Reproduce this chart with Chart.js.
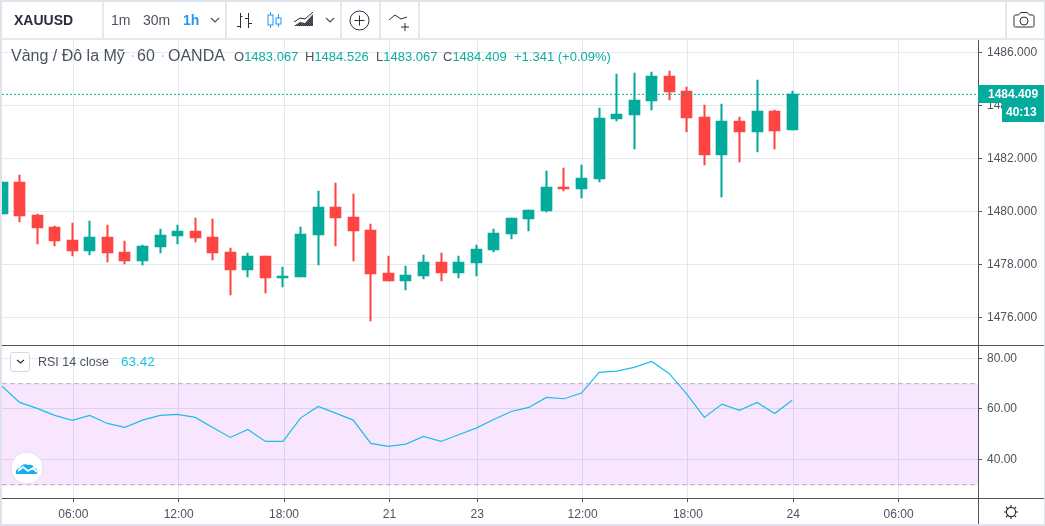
<!DOCTYPE html>
<html lang="vi">
<head>
<meta charset="utf-8">
<title>XAUUSD</title>
<script src="https://cdn.jsdelivr.net/npm/chart.js@4/dist/chart.umd.min.js"></script>
<style>
  html, body { margin: 0; padding: 0; background: #fff; }
  body { width: 1045px; height: 526px; position: relative; overflow: hidden; font-family: "Liberation Sans", Arial, sans-serif; color: #4c525e; }
  canvas { position: absolute; left: 0; top: 0; }
  .t { position: absolute; white-space: nowrap; line-height: 1; }
  .sep { position: absolute; top: 2px; width: 2px; height: 37px; background: #e6e8ee; }
  svg { position: absolute; overflow: visible; }
  #frame { position: absolute; inset: 0; border: 2px solid #e0e3eb; border-right-width: 1px; box-sizing: border-box; pointer-events: none; }
  #toolbarLine { position: absolute; left: 0; top: 38px; width: 1045px; height: 2px; background: #e6e8ee; }
  .green { color: #0fae9e; }
</style>
</head>
<body>
<canvas id="grafico" width="1045" height="526"></canvas>

<div id="toolbarLine"></div>
<div class="sep" style="left:102px"></div>
<div class="sep" style="left:225px"></div>
<div class="sep" style="left:340px"></div>
<div class="sep" style="left:379px"></div>
<div class="sep" style="left:418px"></div>
<div class="sep" style="left:1005px"></div>

<div class="t" style="left:14px;top:13px;font-size:14px;font-weight:bold;color:#2a2e39">XAUUSD</div>
<div class="t" style="left:111px;top:13px;font-size:14px">1m</div>
<div class="t" style="left:143px;top:13px;font-size:14px">30m</div>
<div class="t" style="left:183px;top:13px;font-size:14px;font-weight:bold;color:#2196f3">1h</div>

<!-- icones da barra -->
<svg style="left:0;top:0" width="1045" height="40" fill="none" stroke="#2a2e39" stroke-width="1">
  <defs><pattern id="hachura" width="2" height="2" patternUnits="userSpaceOnUse"><rect width="1" height="1" fill="#2a2e39"/><rect x="1" y="1" width="1" height="1" fill="#2a2e39"/></pattern></defs>
  <path d="M211 18l4 4 4-4M326 18l4 4 4-4" stroke="#50535e" stroke-width="1.2"/>
  <path d="M240.5 13v15M237 26.5h3.5M240.5 16.5h2M248.5 13v15M245 18.5h3.5M248.5 23.5h3.5"/>
  <g stroke="#2196f3"><path d="M270.5 12v3M270.5 25v3M278.5 14v4M278.5 24v3"/><rect x="268" y="15" width="5" height="10"/><rect x="276" y="18" width="5" height="6"/></g>
  <path d="M294 26l6-4 5 1 8-9v12h-19z" fill="url(#hachura)" stroke="none"/>
  <path d="M294 22l6-4 5 1 8-7" stroke="#2a2e39"/>
  <circle cx="359.5" cy="20.5" r="9.5"/><path d="M359.5 15.5v10M354.5 20.5h10"/>
  <path d="M389 20l6-5 6 4 6-2M405 23v8M401 27h8"/>
  <path d="M1015.5 15h3l2-2.500h7l2 2.500h3a1.500 1.500 0 0 1 1.500 1.500v9a1.500 1.500 0 0 1-1.500 1.500h-17a1.500 1.500 0 0 1-1.500-1.500v-9a1.500 1.500 0 0 1 1.500-1.500z"/>
  <circle cx="1024" cy="21" r="4"/>
</svg>

<!-- legenda principal -->
<div class="t" style="left:11px;top:48px;font-size:16px">Vàng / Đô la Mỹ</div>
<div class="t" style="left:130px;top:48px;font-size:16px;color:#c4c7cf">·</div>
<div class="t" style="left:137px;top:48px;font-size:16px">60</div>
<div class="t" style="left:160px;top:48px;font-size:16px;color:#c4c7cf">·</div>
<div class="t" style="left:168px;top:48px;font-size:16px">OANDA</div>
<div class="t" style="left:234px;top:50px;font-size:13px">O<span class="green">1483.067</span></div>
<div class="t" style="left:305px;top:50px;font-size:13px">H<span class="green">1484.526</span></div>
<div class="t" style="left:376px;top:50px;font-size:13px">L<span class="green">1483.067</span></div>
<div class="t" style="left:443px;top:50px;font-size:13px">C<span class="green">1484.409</span></div>
<div class="t green" style="left:514px;top:50px;font-size:13px">+1.341 (+0.09%)</div>

<!-- legenda RSI -->
<div style="position:absolute;left:10px;top:352px;width:20px;height:20px;border:1px solid #d5d8e0;border-radius:3px;background:#fff;box-sizing:border-box"></div>
<svg style="left:0;top:0" width="60" height="400" fill="none"><path d="M17 360l3.500 3 3.500-3" stroke="#2a2e39" stroke-width="1.2"/></svg>
<div class="t" style="left:38px;top:356px;font-size:12.500px">RSI 14 close</div>
<div class="t" style="left:121px;top:355px;font-size:13.500px;color:#1cc4dc">63.42</div>

<!-- logo -->
<svg style="left:10px;top:451px" width="34" height="34">
  <circle cx="17" cy="17" r="16" fill="#fff" stroke="#eadcef"/>
  <path d="M6 23c-1-4 2-6 4-6 1-3 5-5 8-3 2-1 6 0 6 3 3 0 4 3 3 6z" fill="#12aef0"/>
  <path d="M8 20l5-4 5 4 5-3 4 4" fill="none" stroke="#fff" stroke-width="1.800"/>
</svg>

<!-- engrenagem -->
<svg style="left:1004px;top:505px" width="14" height="14" fill="none" stroke="#2a2e39" stroke-width="1.100">
  <circle cx="7" cy="7" r="4.600"/><path d="M7 0v2.400M7 11.600V14M0 7h2.400M11.600 7H14M2 2l1.700 1.700M10.300 10.300L12 12M12 2l-1.700 1.700M3.700 10.300L2 12"/>
</svg>

<div id="frame"></div>

<script>
// Dados (candles de 1h, XAUUSD)
const abertura = [1479.90, 1481.11, 1479.86, 1479.41, 1478.92, 1478.50, 1479.03, 1478.46, 1478.12, 1478.65,
  1479.07, 1479.26, 1479.03, 1478.46, 1477.78, 1478.31, 1477.48, 1477.52, 1479.11, 1480.16,
  1479.79, 1479.29, 1477.67, 1477.37, 1477.56, 1478.09, 1477.67, 1478.05, 1478.54, 1479.14,
  1479.71, 1480.01, 1480.92, 1480.84, 1481.22, 1483.48, 1483.63, 1484.16, 1485.11, 1484.54,
  1483.56, 1482.12, 1483.41, 1482.99, 1483.79, 1483.067];
const maxima = [1481.11, 1481.37, 1479.90, 1479.45, 1479.56, 1479.63, 1479.48, 1478.88, 1478.73, 1479.33,
  1479.48, 1479.75, 1479.71, 1478.62, 1478.43, 1478.31, 1477.90, 1479.41, 1480.77, 1481.07,
  1480.65, 1479.52, 1478.31, 1477.94, 1478.35, 1478.43, 1478.31, 1478.73, 1479.33, 1479.75,
  1480.05, 1481.52, 1481.63, 1481.75, 1483.90, 1485.18, 1485.22, 1485.26, 1485.29, 1484.69,
  1484.01, 1484.05, 1483.56, 1484.95, 1483.82, 1484.526];
const minimas = [1479.90, 1479.60, 1478.77, 1478.69, 1478.31, 1478.35, 1478.09, 1478.01, 1477.97, 1478.43,
  1478.77, 1478.84, 1478.16, 1476.84, 1477.52, 1476.92, 1477.14, 1477.52, 1477.97, 1478.69,
  1478.12, 1475.86, 1477.37, 1477.03, 1477.45, 1477.37, 1477.48, 1477.56, 1478.46, 1478.95,
  1479.26, 1479.97, 1480.77, 1480.50, 1481.11, 1483.41, 1482.35, 1483.82, 1484.20, 1482.99,
  1481.75, 1480.54, 1481.86, 1482.24, 1482.35, 1483.067];
const fechamento = [1481.11, 1479.82, 1479.37, 1478.88, 1478.50, 1479.03, 1478.43, 1478.12, 1478.69, 1479.11,
  1479.26, 1478.99, 1478.43, 1477.78, 1478.31, 1477.48, 1477.56, 1479.14, 1480.16, 1479.75,
  1479.26, 1477.63, 1477.37, 1477.60, 1478.09, 1477.67, 1478.09, 1478.58, 1479.18, 1479.75,
  1480.05, 1480.92, 1480.84, 1481.26, 1483.52, 1483.67, 1484.20, 1485.11, 1484.50, 1483.52,
  1482.12, 1483.41, 1482.99, 1483.79, 1483.03, 1484.409];
const rsi = [69.04, 62.58, 60.20, 57.43, 55.45, 57.43, 54.26, 52.68, 55.58, 57.43,
  57.82, 56.64, 52.68, 48.72, 51.88, 47.13, 47.13, 56.37, 60.99, 58.35,
  55.58, 46.34, 45.15, 46.08, 49.11, 47.13, 49.77, 52.41, 55.84, 59.00,
  60.60, 64.56, 64.03, 66.27, 74.46, 74.98, 76.44, 78.81, 73.93, 65.88,
  56.64, 61.92, 59.41, 62.58, 58.22, 63.42];

const ticksPreco = [1476, 1478, 1480, 1482, 1484, 1486];
const ticksRsi = [40, 60, 80];
const rotulosTempo = ['06:00', '12:00', '18:00', '21', '23', '12:00', '18:00', '24', '06:00'];
const indicesTempo = [4, 10, 16, 22, 27, 33, 39, 45, 51];
const bandaRsi = [70, 30];
const ultimoPreco = 1484.409;
const contagem = '40:13';

const VERDE = '#02ab9c';
const VERMELHO = '#ff4444';
const GRADE = '#dfeaf1';
const EIXO = '#50535e';
const TEXTO = '#50535e';
const xMin = 0;
const xMax = 55.58;

const cores = abertura.map((o, i) => (fechamento[i] >= o ? VERDE : VERMELHO));
const pavios = maxima.map((h, i) => ({ x: i, y: [minimas[i], h] }));
const corpos = abertura.map((o, i) => ({ x: i, y: [o, fechamento[i]] }));

function linhaHorizontal(valor) {
  return [{ x: xMin, y: valor }, { x: xMax, y: valor }];
}

// Encaixa as barras no pixel para ficarem nitidas como no original
const encaixe = {
  id: 'encaixe',
  afterDatasetsUpdate(chart) {
    chart.data.datasets.forEach((d, i) => {
      const meta = chart.getDatasetMeta(i);
      if (meta.type !== 'bar') return;
      meta.data.forEach(b => {
        b.x = Math.floor(b.x) + 0.5;
        b.y = Math.round(b.y);
        b.base = Math.round(b.base);
      });
    });
  }
};

// Separadores dos paineis e etiquetas do ultimo preco
const moldura = {
  id: 'moldura',
  afterDraw(chart) {
    const { ctx, chartArea: a, scales } = chart;
    const divisao = scales.yPreco.bottom;
    ctx.save();
    ctx.fillStyle = EIXO;
    ctx.fillRect(2, Math.floor(divisao), 1043, 1);
    ctx.fillRect(2, Math.floor(a.bottom), 1043, 1);
    ctx.fillRect(Math.round(a.right), a.top, 1, 524 - a.top);

    const y = Math.round(scales.yPreco.getPixelForValue(ultimoPreco));
    ctx.fillStyle = VERDE;
    ctx.fillRect(a.right, y - 9, 66, 18);
    ctx.fillRect(1002, y + 9, 42, 19);
    ctx.fillStyle = '#fff';
    ctx.font = 'bold 12px "Liberation Sans"';
    ctx.textBaseline = 'middle';
    ctx.fillText(ultimoPreco.toFixed(3), 988, y + 0.5);
    ctx.fillText(contagem, 1006, y + 19);
    ctx.restore();
  }
};

new Chart(document.getElementById('grafico'), {
  type: 'bar',
  plugins: [encaixe, moldura],
  data: {
    datasets: [
      { type: 'line', yAxisID: 'yPreco', data: linhaHorizontal(ultimoPreco), borderColor: VERDE, borderWidth: 1, borderDash: [2, 2], pointRadius: 0 },
      { yAxisID: 'yPreco', data: corpos, backgroundColor: cores, barThickness: 11, grouped: false },
      { yAxisID: 'yPreco', data: pavios, backgroundColor: cores, barThickness: 1.4, grouped: false },
      { type: 'line', yAxisID: 'yRsi', data: rsi.map((v, i) => ({ x: i, y: v })), borderColor: '#1cbde8', borderWidth: 1.2, pointRadius: 0, tension: 0 },
      { type: 'line', yAxisID: 'yRsi', data: linhaHorizontal(bandaRsi[0]), borderColor: '#bba9bf', borderWidth: 1, borderDash: [5, 3], pointRadius: 0, fill: '+1', backgroundColor: 'rgba(189,47,238,0.12)' },
      { type: 'line', yAxisID: 'yRsi', data: linhaHorizontal(bandaRsi[1]), borderColor: '#bba9bf', borderWidth: 1, borderDash: [5, 3], pointRadius: 0 }
    ]
  },
  options: {
    responsive: false,
    animation: false,
    events: [],
    layout: { padding: { top: 40, left: 2, right: 0, bottom: 0 } },
    plugins: { legend: { display: false }, tooltip: { enabled: false } },
    scales: {
      x: {
        type: 'linear',
        min: xMin,
        max: xMax,
        offset: false,
        grid: { offset: false, color: GRADE, tickColor: EIXO, tickLength: 4 },
        border: { display: false },
        afterBuildTicks: s => { s.ticks = indicesTempo.map(v => ({ value: v + 0.06 })); },
        afterFit: s => { s.height = 28; },
        ticks: {
          autoSkip: false,
          maxRotation: 0,
          padding: 5,
          color: TEXTO,
          font: { family: 'Liberation Sans', size: 12 },
          callback: (v, i) => rotulosTempo[i]
        }
      },
      yPreco: {
        type: 'linear',
        position: 'right',
        stack: 'paineis',
        stackWeight: 305.5,
        min: 1474.936,
        max: 1486.46,
        grid: { color: GRADE, tickColor: EIXO, tickLength: 4 },
        border: { display: false },
        afterBuildTicks: s => { s.ticks = ticksPreco.map(v => ({ value: v })); },
        afterFit: s => { s.width = 67; },
        ticks: { padding: 5, color: TEXTO, font: { family: 'Liberation Sans', size: 12 }, callback: v => v.toFixed(3) }
      },
      yRsi: {
        type: 'linear',
        position: 'right',
        stack: 'paineis',
        stackWeight: 152.5,
        min: 24.75,
        max: 85.1,
        grid: { color: GRADE, tickColor: EIXO, tickLength: 4 },
        border: { display: false },
        afterBuildTicks: s => { s.ticks = ticksRsi.map(v => ({ value: v })); },
        afterFit: s => { s.width = 67; },
        ticks: { padding: 5, color: TEXTO, font: { family: 'Liberation Sans', size: 12 }, callback: v => v.toFixed(2) }
      }
    }
  }
});
</script>
</body>
</html>
